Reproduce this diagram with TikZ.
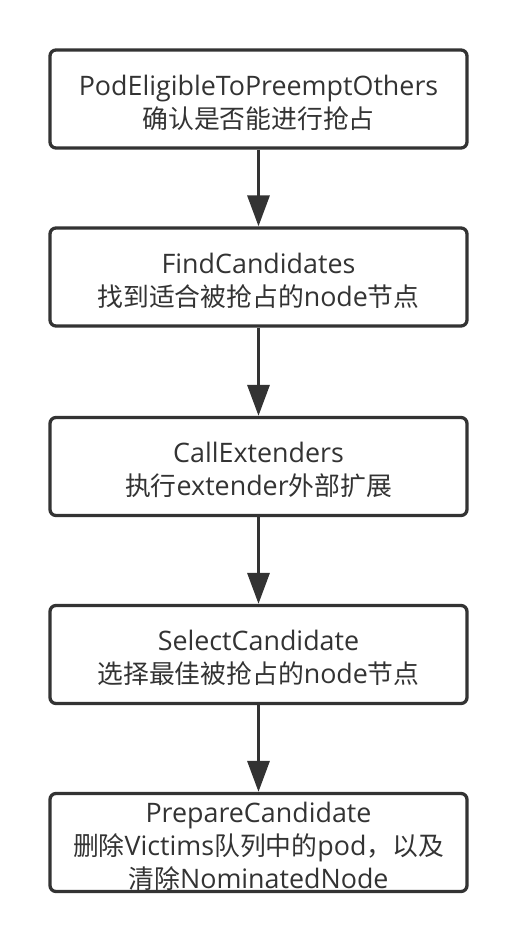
\documentclass[tikz,border=0pt]{standalone}
\usepackage{fontspec}
\setmainfont[Scale=1.04]{Open Sans}
\newfontfamily\cjk{Noto Sans CJK SC}
\usetikzlibrary{arrows.meta}
\definecolor{ink}{HTML}{333333}
\begin{document}
\begin{tikzpicture}[x=1pt,y=-1pt,
  box/.style={draw=ink, line width=3.3pt, rounded corners=6pt, minimum width=417pt,
    minimum height=98pt, inner sep=0pt},
  txt/.style={inner sep=0pt, align=center, text=ink,
    font=\fontsize{25.8}{33}\selectfont},
  flow/.style={draw=ink, line width=3.3pt, -{Triangle[length=31pt,width=22pt]}}]
\useasboundingbox (0,0) rectangle (516,942);
\node[box] (b1) at (258.5,99) {};
\node[box] (b2) at (258.5,277) {};
\node[box] (b3) at (258.5,466.5) {};
\node[box] (b4) at (258.5,654.5) {};
\node[box] (b5) at (258.5,842.5) {};
\node[txt] (t1) at ([yshift=-4pt]b1.center) {PodEligibleToPreemptOthers\\{\cjk 确认是否能进行抢占}};
\node[txt] (t2) at ([yshift=-3.5pt]b2.center) {FindCandidates\\{\cjk 找到适合被抢占的}node{\cjk 节点}};
\node[txt] (t3) at ([yshift=-3.5pt]b3.center) {CallExtenders\\{\cjk 执行}extender{\cjk 外部扩展}};
\node[txt] (t4) at ([yshift=-3.5pt]b4.center) {SelectCandidate\\{\cjk 选择最佳被抢占的}node{\cjk 节点}};
\node[txt] (t5) at ([yshift=-3.5pt]b5.center) {PrepareCandidate\\{\cjk 删除}Victims{\cjk 队列中的}pod{\cjk ，以及}\\{\cjk 清除}NominatedNode};
\draw[flow] (b1) -- (b2);
\draw[flow] (b2) -- (b3);
\draw[flow] (b3) -- (b4);
\draw[flow] (b4) -- (b5);
\end{tikzpicture}
\end{document}
